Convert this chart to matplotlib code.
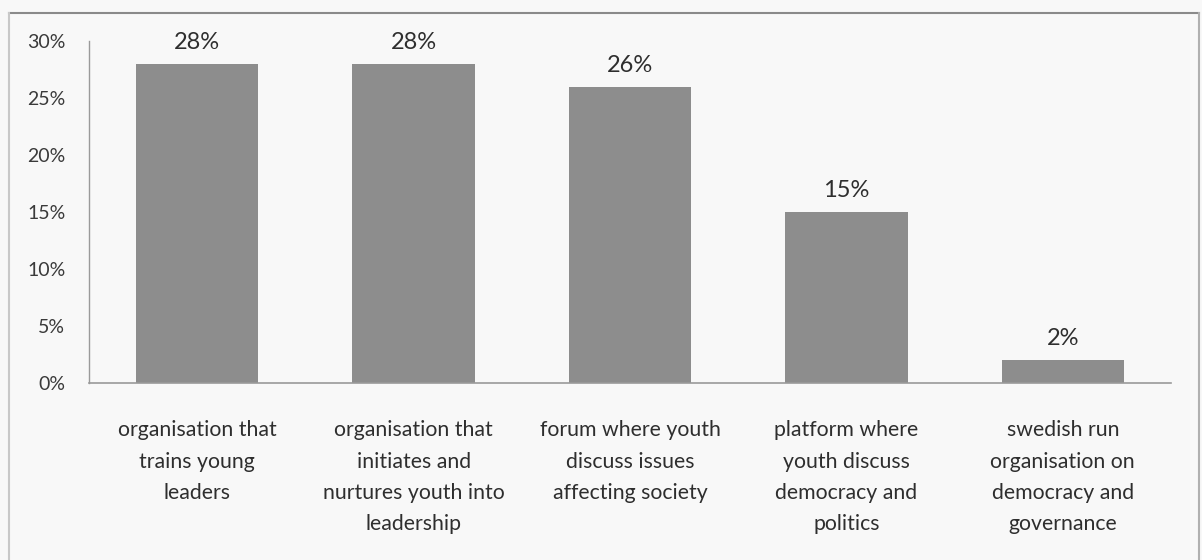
import matplotlib
matplotlib.use("Agg")
import matplotlib.pyplot as plt
from matplotlib.lines import Line2D

categories = [
    "organisation that\ntrains young\nleaders",
    "organisation that\ninitiates and\nnurtures youth into\nleadership",
    "forum where youth\ndiscuss issues\naffecting society",
    "platform where\nyouth discuss\ndemocracy and\npolitics",
    "swedish run\norganisation on\ndemocracy and\ngovernance",
]
values = [28, 28, 26, 15, 2]
value_labels = ["28%", "28%", "26%", "15%", "2%"]
yticks = [0, 5, 10, 15, 20, 25, 30]
ytick_labels = ["0%", "5%", "10%", "15%", "20%", "25%", "30%"]

plt.rcParams['font.family'] = ['Lato', 'DejaVu Sans']
W, H = 1202, 560
fig = plt.figure(figsize=(W / 100, H / 100), dpi=100, facecolor="#f8f8f8")
ax = fig.add_axes([89 / W, 1 - 383 / H, (1171 - 89) / W, (383 - 41) / H])
ax.set_facecolor("#f8f8f8")

x = list(range(len(categories)))
bars = ax.bar(x, values, width=0.565, color="#8d8d8d", edgecolor="none")
ax.set_xlim(-0.5, len(categories) - 0.5)
ax.set_ylim(0, 30)

for b, lab in zip(bars, value_labels):
    ax.annotate(lab, (b.get_x() + b.get_width() / 2, b.get_height()),
                xytext=(0, 15.5), textcoords="offset points", ha="center",
                va="center", fontsize=17, color="#2e2e2e")

ax.set_yticks(yticks)
ax.set_yticklabels(ytick_labels, fontsize=14, color="#3a3a3a")
ax.set_xticks(x)
ax.set_xticklabels(categories, fontsize=15.3, color="#2e2e2e", linespacing=1.7)
ax.tick_params(axis="y", length=0, pad=17)
ax.tick_params(axis="x", length=0, pad=27)

for s in ["top", "right"]:
    ax.spines[s].set_visible(False)
ax.spines["left"].set_color("#9a9a9a")
ax.spines["bottom"].set_color("#9a9a9a")
ax.spines["left"].set_linewidth(1.0)
ax.spines["bottom"].set_linewidth(1.2)

# outer frame of the scanned chart
fx0, fx1 = 9 / W, 1199 / W
fy_top = 1 - 13 / H
fig.add_artist(Line2D([fx0, fx1], [fy_top, fy_top], color="#8a8a8a", lw=1.5, transform=fig.transFigure))
fig.add_artist(Line2D([fx0, fx0], [0, fy_top], color="#c8c8c8", lw=1.5, transform=fig.transFigure))
fig.add_artist(Line2D([fx1, fx1], [0, fy_top], color="#b0b0b0", lw=1.5, transform=fig.transFigure))

fig.savefig("out.png", dpi=100, facecolor=fig.get_facecolor())
